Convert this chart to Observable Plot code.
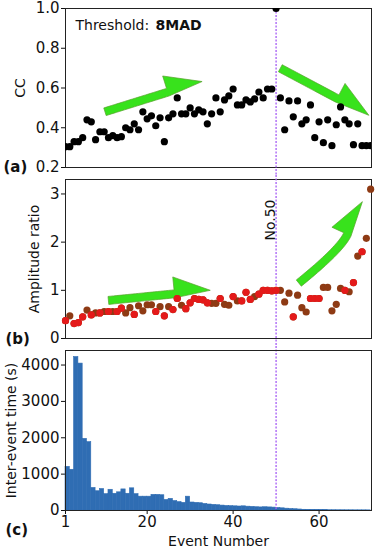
<!DOCTYPE html>
<html><head><meta charset="utf-8">
<script src="https://cdn.jsdelivr.net/npm/d3@7"></script>
<script src="https://cdn.jsdelivr.net/npm/@observablehq/plot@0.6"></script>
<style>
body{margin:0;background:#fff;}
#chart{width:376px;font-family:"DejaVu Sans",sans-serif;}
#chart svg{display:block;}
</style></head><body><div id="chart"></div>
<script>
// ---------- data ----------
const events = d3.range(1, 73);
const refEvent = 50;
const ccValues = [0.305,0.305,0.33,0.33,0.35,0.44,0.43,0.34,0.38,0.38,
  0.35,0.36,0.35,0.355,0.40,0.39,0.42,0.39,0.48,0.445,
  0.46,0.41,0.45,0.33,0.45,0.47,0.55,0.47,0.47,0.50,
  0.47,0.49,0.48,0.42,0.47,0.55,0.48,0.54,0.56,0.595,
  0.515,0.515,0.54,0.53,0.545,0.58,0.55,0.595,0.595,1.0,
  0.55,0.39,0.535,0.455,0.535,0.42,0.44,0.515,0.35,0.43,
  0.325,0.44,0.31,0.415,0.505,0.44,0.42,0.315,0.42,0.31,
  0.31,0.31];
const ampBrown = [0.37,0.47,0.31,0.33,0.45,0.59,0.49,0.53,0.53,0.56,
  0.56,0.56,0.56,0.63,0.53,0.64,0.50,0.68,0.575,0.70,
  0.70,0.56,0.66,0.47,0.66,0.60,0.83,0.69,0.62,0.74,
  0.83,0.81,0.80,0.74,0.73,0.73,0.83,0.71,0.69,0.87,
  0.78,0.78,0.96,0.81,0.87,0.92,1.00,1.00,0.99,1.00,
  1.00,0.76,0.94,0.45,0.90,0.64,0.55,0.83,0.83,0.83,
  1.06,1.06,0.575,0.71,1.04,1.00,0.97,1.16,1.71,1.80,
  2.08,3.10];
const ampRed = [0.37,null,0.31,0.33,0.45,null,0.49,null,0.53,null,
  0.56,null,0.56,0.63,null,null,0.50,null,null,null,
  null,0.56,null,0.47,null,0.60,0.83,null,0.62,0.74,
  0.83,0.81,0.80,0.74,null,null,0.83,null,null,0.87,
  null,0.78,0.96,0.81,null,0.92,1.00,1.00,0.99,1.00,
  null,null,null,0.45,null,null,null,0.83,0.83,0.83,
  null,null,null,null,null,1.00,null,1.16,null,1.80,
  null,null];
const interEventTime = [1200,1120,4220,4040,1970,1880,620,530,590,450,
  570,460,500,580,460,610,450,380,380,380,
  430,430,420,290,320,260,230,210,380,220,
  210,200,180,165,155,145,135,125,120,115,
  110,115,105,100,90,85,90,85,80,70,
  60,50,42,35,28,20,16,13,11,10,
  9,8,8,7,7,6,6,5,5,5,4];
const xTicks = [1, 20, 40, 60];
const ccTicks = [0.2, 0.4, 0.6, 0.8, 1.0];
const ampTicks = [0, 1, 2, 3];
const timeTicks = [0, 1000, 2000, 3000, 4000];
const ccArrows = [
  {x1: 10.3, y1: 0.478, x2: 32.9, y2: 0.63},
  {x1: 51.1, y1: 0.697, x2: 71.7, y2: 0.46}
];
const ampArrows = [
  {x1: 11.1, y1: 0.78, x2: 34.8, y2: 0.99},
  {x1: 55.4, y1: 1.14, x2: 70.2, y2: 2.83, cx: 65.1, cy: 1.84}
];

// ---------- styles ----------
const xDomain = [1, 72.2];
const lineColor = "#a55cf5";
const barColor = "#2f6db3";
const font = "DejaVu Sans";
const SVGNS = "http://www.w3.org/2000/svg";

function greenArrows(list) {
  const headLen = 36, barb = 17, hw = 4;
  return (index, scales) => {
    const g = document.createElementNS(SVGNS, "g");
    for (const a of list) {
      const P0 = [scales.x(a.x1), scales.y(a.y1)];
      const T = [scales.x(a.x2), scales.y(a.y2)];
      const curved = a.cx != null;
      const C = curved ? [scales.x(a.cx), scales.y(a.cy)] : P0;
      let dx = T[0] - C[0], dy = T[1] - C[1];
      const len = Math.hypot(dx, dy); dx /= len; dy /= len;
      const B = [T[0] - dx * headLen, T[1] - dy * headLen];
      const Q = curved ? C : [(P0[0] + B[0]) / 2, (P0[1] + B[1]) / 2];
      const left = [], right = [];
      const N = 24;
      for (let k = 0; k <= N; k++) {
        const t = k / N;
        const x = (1 - t) ** 2 * P0[0] + 2 * (1 - t) * t * Q[0] + t * t * B[0];
        const y = (1 - t) ** 2 * P0[1] + 2 * (1 - t) * t * Q[1] + t * t * B[1];
        let tx = 2 * (1 - t) * (Q[0] - P0[0]) + 2 * t * (B[0] - Q[0]);
        let ty = 2 * (1 - t) * (Q[1] - P0[1]) + 2 * t * (B[1] - Q[1]);
        const tl = Math.hypot(tx, ty); tx /= tl; ty /= tl;
        const nx = ty, ny = -tx;
        left.push([x + nx * hw, y + ny * hw]);
        right.push([x - nx * hw, y - ny * hw]);
      }
      const nx = dy, ny = -dx;
      const pts = [...left, [B[0] + nx * barb, B[1] + ny * barb], T, ...right.reverse()];
      const p = document.createElementNS(SVGNS, "polygon");
      p.setAttribute("points", pts.map(d => d.join(",")).join(" "));
      p.setAttribute("fill", "#38e21c");
      p.setAttribute("stroke", "#58a02c");
      p.setAttribute("stroke-width", "0.7");
      g.appendChild(p);
    }
    return g;
  };
}

const baseStyle = {fontFamily: font, fontSize: "15px", background: "transparent", overflow: "visible", color: "#111"};
const yLabel = (txt, dx) => Plot.text([txt], {frameAnchor: "left", rotate: -90, dx, fontSize: 14, textAnchor: "middle", lineAnchor: "middle", fill: "#111"});
const panelLabel = (txt, dx, dy) => Plot.text([txt], {frameAnchor: "bottom-left", dx, dy, textAnchor: "start", lineAnchor: "middle", fontWeight: "bold", fontSize: 15, fill: "#111"});

// ---------- panel (a) ----------
const ccData = events.map((e, i) => ({event: e, cc: ccValues[i]}));
const plotA = Plot.plot({
  width: 376, height: 175, marginLeft: 65, marginRight: 5, marginTop: 8, marginBottom: 8,
  style: baseStyle,
  x: {domain: xDomain, axis: null},
  y: {domain: [0.2, 1.0], ticks: ccTicks, tickFormat: ".1f", label: null, tickSize: 4, tickPadding: 2},
  marks: [
    Plot.frame({stroke: "#222"}),
    Plot.ruleX([refEvent], {stroke: lineColor, strokeDasharray: "2,1.5", strokeWidth: 1.3, insetBottom: -8}),
    greenArrows(ccArrows),
    Plot.dot(ccData, {x: "event", y: "cc", r: 3.6, fill: "#000", clip: true}),
    Plot.text(["Threshold:"], {frameAnchor: "top-left", dx: 10, dy: 12, lineAnchor: "top", textAnchor: "start", fontSize: 14, fill: "#111"}),
    Plot.text(["8MAD"], {frameAnchor: "top-left", dx: 90, dy: 12, lineAnchor: "top", textAnchor: "start", fontSize: 14, fontWeight: "bold", fill: "#111"}),
    yLabel("CC", -45),
    panelLabel("(a)", -62, 0)
  ]
});

// ---------- panel (b) ----------
const ampData = events.map((e, i) => ({event: e, brown: ampBrown[i], red: ampRed[i]}));
const plotB = Plot.plot({
  width: 376, height: 171, marginLeft: 65, marginRight: 5, marginTop: 4, marginBottom: 8,
  style: baseStyle,
  x: {domain: xDomain, axis: null},
  y: {domain: [0, 3.3], ticks: ampTicks, tickFormat: "d", label: null, tickSize: 4, tickPadding: 2},
  marks: [
    Plot.frame({stroke: "#222"}),
    Plot.ruleX([refEvent], {stroke: lineColor, strokeDasharray: "2,1.5", strokeWidth: 1.3, insetTop: -4, insetBottom: -8}),
    greenArrows(ampArrows),
    Plot.dot(ampData, {x: "event", y: "brown", r: 3.6, fill: "#8e3a14"}),
    Plot.dot(ampData.filter(d => d.red != null), {x: "event", y: "red", r: 3.6, fill: "#e41a1a"}),
    Plot.text([{event: refEvent, label: `No.${refEvent}`}], {x: "event", text: "label", frameAnchor: "top", rotate: -90, textAnchor: "end", lineAnchor: "bottom", dx: -1.5, dy: 20, fontSize: 14, fill: "#111"}),
    yLabel("Amplitude ratio", -31),
    panelLabel("(b)", -60, 1)
  ]
});

// ---------- panel (c) ----------
const timeData = interEventTime.map((v, i) => ({start: events[i], end: events[i + 1], t: v}));
const plotC = Plot.plot({
  width: 376, height: 204, marginLeft: 65, marginRight: 5, marginTop: 4, marginBottom: 40,
  style: baseStyle,
  x: {domain: xDomain, ticks: xTicks, tickFormat: "d", label: null, tickSize: 4, tickPadding: 2},
  y: {domain: [0, 4400], ticks: timeTicks, tickFormat: "d", label: null, tickSize: 4, tickPadding: 2},
  marks: [
    Plot.rectY(timeData, {x1: "start", x2: "end", y: "t", fill: barColor, stroke: barColor, strokeWidth: 0.6, insetLeft: 0, insetRight: 0}),
    Plot.ruleX([refEvent], {stroke: lineColor, strokeDasharray: "2,1.5", strokeWidth: 1.3, insetTop: -4}),
    Plot.frame({stroke: "#222"}),
    yLabel("Inter-event time (s)", -54),
    Plot.text(["Event Number"], {frameAnchor: "bottom", dy: 31, lineAnchor: "middle", fontSize: 14, fill: "#111"}),
    panelLabel("(c)", -60, 20)
  ]
});

const root = document.getElementById("chart");
root.appendChild(plotA);
root.appendChild(plotB);
root.appendChild(plotC);
</script>
</body></html>
